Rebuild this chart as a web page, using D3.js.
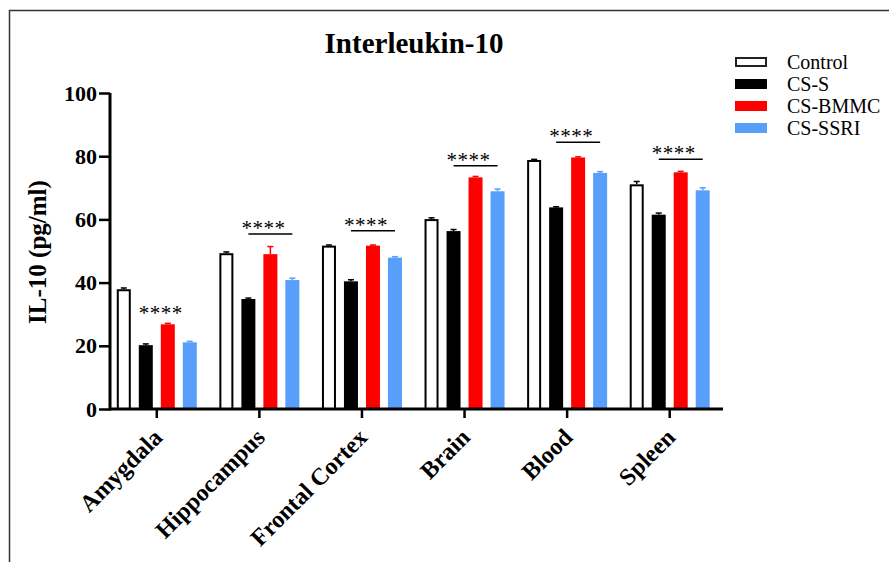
<!DOCTYPE html>
<html lang="en">
  <head>
    <meta charset="utf-8" />
    <title>Interleukin-10</title>
    <script src="https://cdn.jsdelivr.net/npm/d3@7"></script>
    <style>
      body { margin: 0; background: #fff; }
      svg { display: block; font-family: "Liberation Serif", "Times New Roman", serif; }
    </style>
  </head>
  <body>
    <script>
      // tissues on the x axis
      var regions = ["Amygdala", "Hippocampus", "Frontal Cortex", "Brain", "Blood", "Spleen"];
      var groups = ["Control", "CS-S", "CS-BMMC", "CS-SSRI"];
      var colors = ["#ffffff", "#000000", "#ff0000", "#579ffa"];

      // IL-10 means (pg/ml), one array per group
      var control = [37.9, 49.3, 51.7, 60.1, 78.8, 71.1];
      var csS = [20.2, 34.8, 40.4, 56.3, 63.8, 61.5];
      var csBMMC = [26.8, 49.0, 51.7, 73.3, 79.6, 74.9];
      var csSSRI = [21.1, 40.8, 47.9, 68.9, 74.7, 69.2];

      // error (SEM), upward only
      var semControl = [0.4, 0.4, 0.2, 0.4, 0.2, 0.9];
      var semCsS = [0.4, 0.3, 0.5, 0.5, 0.2, 0.5];
      var semCsBMMC = [0.3, 2.4, 0.2, 0.3, 0.2, 0.3];
      var semCsSSRI = [0.3, 0.6, 0.3, 0.7, 0.4, 0.8];

      // significance marks: height (in data units) and whether a bar is drawn
      var sigLevel = [30.5, 55.4, 56.4, 77.0, 84.4, 79.0];
      var sigLine = [false, true, true, true, true, true];

      var yTicks = [0, 20, 40, 60, 80, 100];

      var means = [control, csS, csBMMC, csSSRI];
      var sems = [semControl, semCsS, semCsBMMC, semCsSSRI];

      var width = 889, height = 562;

      var svg = d3.select("body").append("svg")
        .attr("width", width)
        .attr("height", height);

      // frame lines at top and left
      svg.append("path")
        .attr("d", "M9.5," + height + "V10.5H" + width)
        .attr("fill", "none")
        .attr("stroke", "#333")
        .attr("stroke-width", 1.5);

      var x = d3.scaleBand().domain(regions).range([105.5, 721]);
      var xInner = d3.scaleBand().domain(groups).range([-44, 44])
        .paddingInner(8 / 22).paddingOuter(4 / 22);
      var y = d3.scaleLinear().domain([0, 100]).range([409, 93]);

      function cx(region, group) {
        return x(region) + x.bandwidth() / 2 + xInner(group) + xInner.bandwidth() / 2;
      }

      var rows = [];
      regions.forEach(function (r, i) {
        groups.forEach(function (g, j) {
          rows.push({ region: r, group: g, gi: j, value: means[j][i], sem: sems[j][i] });
        });
      });

      // title
      svg.append("text")
        .attr("x", 414)
        .attr("y", 53)
        .attr("text-anchor", "middle")
        .attr("font-weight", "bold")
        .attr("font-size", 29)
        .text("Interleukin-10");

      // error bars (drawn first so bars sit over the lower half)
      var err = svg.append("g").selectAll("g").data(rows).enter().append("g")
        .attr("stroke", function (d) { return d.gi === 0 ? "#000" : colors[d.gi]; })
        .attr("stroke-width", 1.5);
      err.append("line")
        .attr("x1", function (d) { return cx(d.region, d.group); })
        .attr("x2", function (d) { return cx(d.region, d.group); })
        .attr("y1", function (d) { return y(d.value); })
        .attr("y2", function (d) { return y(d.value + d.sem); });
      err.append("line")
        .attr("x1", function (d) { return cx(d.region, d.group) - 3; })
        .attr("x2", function (d) { return cx(d.region, d.group) + 3; })
        .attr("y1", function (d) { return y(d.value + d.sem); })
        .attr("y2", function (d) { return y(d.value + d.sem); });

      // bars
      svg.append("g").selectAll("rect").data(rows).enter().append("rect")
        .attr("x", function (d) { return x(d.region) + x.bandwidth() / 2 + xInner(d.group) + (d.gi === 0 ? 1 : 0); })
        .attr("y", function (d) { return y(d.value) + (d.gi === 0 ? 1 : 0); })
        .attr("width", function (d) { return xInner.bandwidth() - (d.gi === 0 ? 2 : 0); })
        .attr("height", function (d) { return y(0) - y(d.value) - (d.gi === 0 ? 1 : 0); })
        .attr("fill", function (d) { return colors[d.gi]; })
        .attr("stroke", function (d) { return d.gi === 0 ? "#000" : "none"; })
        .attr("stroke-width", 2);

      // significance
      var sig = svg.append("g").selectAll("g").data(regions).enter().append("g");
      sig.filter(function (d, i) { return sigLine[i]; })
        .append("line")
        .attr("x1", function (d) { return cx(d, "CS-S"); })
        .attr("x2", function (d) { return cx(d, "CS-SSRI"); })
        .attr("y1", function (d) { return y(sigLevel[regions.indexOf(d)]); })
        .attr("y2", function (d) { return y(sigLevel[regions.indexOf(d)]); })
        .attr("stroke", "#000")
        .attr("stroke-width", 1.5);
      sig.append("text")
        .attr("x", function (d) { return x(d) + x.bandwidth() / 2 + xInner("CS-BMMC"); })
        .attr("y", function (d, i) { return y(sigLevel[i]) + (sigLine[i] ? 1 : 7); })
        .attr("text-anchor", "middle")
        .attr("font-size", 21)
        .attr("letter-spacing", 0.5)
        .text("****");

      // axes
      var yAxis = svg.append("g")
        .attr("transform", "translate(110,0)")
        .call(d3.axisLeft(y).tickValues(yTicks).tickSize(11).tickPadding(2));
      var xAxis = svg.append("g")
        .attr("transform", "translate(0,409)")
        .call(d3.axisBottom(x).tickSize(9).tickFormat(""));
      xAxis.select(".domain").attr("d", "M110,0H723");

      [yAxis, xAxis].forEach(function (a) {
        a.selectAll(".domain").attr("stroke", "#000").attr("stroke-width", 3);
        a.selectAll(".tick line").attr("stroke", "#000").attr("stroke-width", 2.5);
      });
      yAxis.select(".domain").attr("d", "M0,93V410.5");
      yAxis.selectAll(".tick text")
        .attr("font-family", "Liberation Serif, serif")
        .attr("font-size", 22)
        .attr("font-weight", "bold")
        .attr("fill", "#000");

      svg.append("g").selectAll("text").data(regions).enter().append("text")
        .attr("transform", function (d) {
          return "translate(" + (x(d) + x.bandwidth() / 2 - 5) + ",427) rotate(-45)";
        })
        .attr("text-anchor", "end")
        .attr("dy", "0.7em")
        .attr("font-size", 24)
        .attr("font-weight", "bold")
        .text(function (d) { return d; });

      svg.append("text")
        .attr("transform", "translate(46,252) rotate(-90)")
        .attr("text-anchor", "middle")
        .attr("font-size", 25)
        .attr("font-weight", "bold")
        .text("IL-10 (pg/ml)");

      // legend
      var leg = svg.append("g").selectAll("g").data(groups).enter().append("g")
        .attr("transform", function (d, i) { return "translate(735," + (62 + i * 22) + ")"; });
      leg.append("rect")
        .attr("x", function (d, i) { return i === 0 ? 1 : 0; })
        .attr("y", function (d, i) { return i === 0 ? -4 : -5; })
        .attr("width", function (d, i) { return i === 0 ? 30 : 32; })
        .attr("height", function (d, i) { return i === 0 ? 8 : 10; })
        .attr("fill", function (d, i) { return colors[i]; })
        .attr("stroke", function (d, i) { return i === 0 ? "#222" : "none"; })
        .attr("stroke-width", 2);
      leg.append("text")
        .attr("x", 52)
        .attr("y", 7)
        .attr("font-size", 20)
        .text(function (d) { return d; });
    </script>
  </body>
</html>
